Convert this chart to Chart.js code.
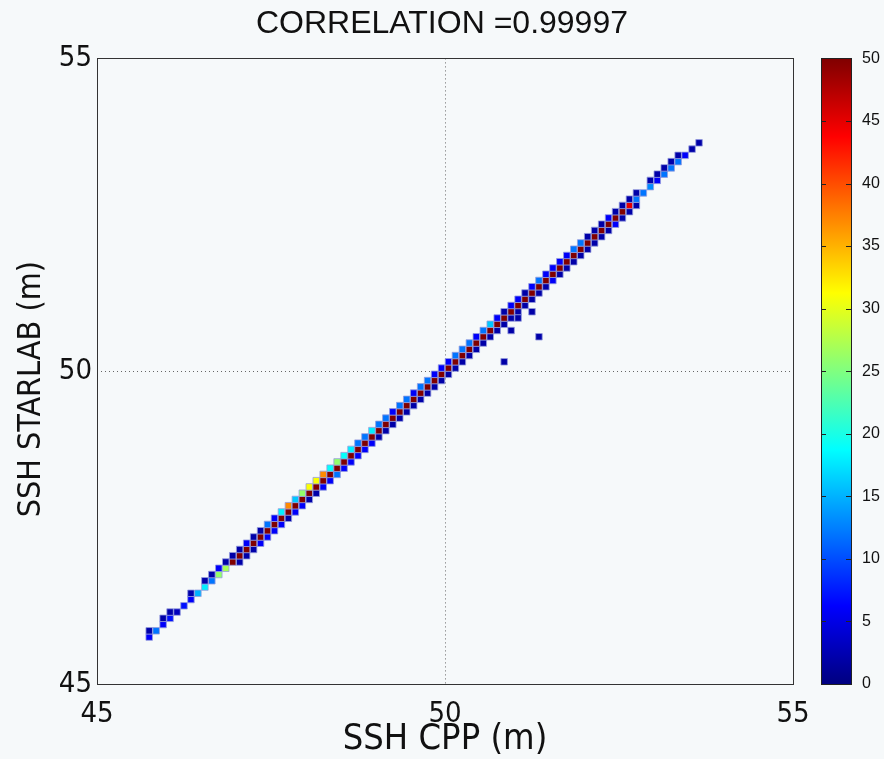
<!DOCTYPE html>
<html>
<head>
<meta charset="utf-8">
<script src="https://cdn.jsdelivr.net/npm/chart.js@4.4.0/dist/chart.umd.min.js"></script>
<style>
html,body{margin:0;padding:0;background:#f6f9fa;}
canvas{display:block;}
</style>
</head>
<body>
<canvas id="c" width="884" height="759" style="width:884px;height:759px"></canvas>
<script>
// ---------------- data ----------------
const chartTitle = 'CORRELATION =0.99997';
const xAxisTitle = 'SSH CPP (m)';
const yAxisTitle = 'SSH STARLAB (m)';
const axisTicks = [45, 50, 55];
const colorbarTicks = [0, 5, 10, 15, 20, 25, 30, 35, 40, 45, 50];
const colorMax = 50;

// 0.1 m bin centres (used for both axes)
const binCenters = [
  45.65, 45.75, 45.85, 45.95, 46.05, 46.15, 46.25, 46.35, 46.45, 46.55,
  46.65, 46.75, 46.85, 46.95, 47.05, 47.15, 47.25, 47.35, 47.45, 47.55,
  47.65, 47.75, 47.85, 47.95, 48.05, 48.15, 48.25, 48.35, 48.45, 48.55,
  48.65, 48.75, 48.85, 48.95, 49.05, 49.15, 49.25, 49.35, 49.45, 49.55,
  49.65, 49.75, 49.85, 49.95, 50.05, 50.15, 50.25, 50.35, 50.45, 50.55,
  50.65, 50.75, 50.85, 50.95, 51.05, 51.15, 51.25, 51.35, 51.45, 51.55,
  51.65, 51.75, 51.85, 51.95, 52.05, 52.15, 52.25, 52.35, 52.45, 52.55,
  52.65, 52.75, 52.85, 52.95, 53.05, 53.15, 53.25, 53.35, 53.45, 53.55,
  53.65, 53.75
];

// per STARLAB row (45.75 ... 53.65): counts in the CPP bin just left of, on, and just right of the diagonal
const aboveDiagCounts = [
  0, 2, 0, 2, 2, 0, 0, 2, 0, 2,
  2, 6, 2, 2, 2, 6, 2, 2, 12, 6,
  18, 37, 16, 26, 31, 31, 37, 19, 26, 19,
  18, 12, 12, 18, 12, 12, 6, 12, 12, 6,
  12, 12, 6, 6, 6, 12, 12, 12, 6, 12,
  16, 6, 2, 6, 6, 2, 6, 12, 6, 6,
  6, 6, 12, 12, 2, 2, 2, 6, 2, 2,
  2, 2, 0, 2, 2, 2, 2, 2, 0, 0
];
const onDiagCounts = [
  6, 12, 6, 7, 3, 7, 6, 15, 18, 12,
  26, 27, 55, 70, 85, 95, 110, 120, 130, 140,
  150, 160, 170, 175, 180, 180, 175, 170, 165, 160,
  160, 155, 150, 150, 145, 140, 140, 135, 130, 130,
  125, 120, 120, 115, 115, 110, 110, 105, 105, 100,
  100, 95, 95, 90, 90, 85, 85, 80, 80, 75,
  75, 70, 70, 65, 65, 60, 60, 55, 52, 45,
  12, 12, 13, 6, 12, 12, 12, 6, 2, 2
];
const belowDiagCounts = [
  0, 0, 0, 0, 0, 0, 0, 0, 0, 0,
  0, 0, 2, 2, 2, 6, 6, 6, 6, 2,
  6, 6, 2, 2, 6, 6, 12, 6, 6, 6,
  6, 6, 2, 2, 2, 2, 2, 2, 2, 2,
  2, 2, 2, 2, 2, 2, 2, 2, 2, 2,
  2, 2, 2, 2, 2, 2, 2, 6, 2, 2,
  2, 2, 2, 2, 2, 2, 6, 2, 2, 2,
  0, 0, 0, 0, 0, 0, 0, 0, 0, 0
];

// isolated bins away from the diagonal
const outlierX = [50.85, 50.95, 51.05, 51.25, 51.35];
const outlierY = [50.15, 50.65, 50.85, 50.95, 50.55];
const outlierCounts = [2, 2, 2, 2, 2];

// ---------------- helpers ----------------
function jet(v) {
  const t = Math.max(0, Math.min(1, v / colorMax));
  const c = k => Math.round(255 * Math.max(0, Math.min(1, 1.5 - Math.abs(4 * t - k))));
  return `rgb(${c(3)},${c(2)},${c(1)})`;
}

const cells = [];
for (let i = 0; i < onDiagCounts.length; i++) {
  const y = binCenters[i + 1];
  if (aboveDiagCounts[i]) cells.push({x: binCenters[i], y, v: aboveDiagCounts[i]});
  if (onDiagCounts[i]) cells.push({x: binCenters[i + 1], y, v: onDiagCounts[i]});
  if (belowDiagCounts[i]) cells.push({x: binCenters[i + 2], y, v: belowDiagCounts[i]});
}
for (let i = 0; i < outlierX.length; i++) {
  cells.push({x: outlierX[i], y: outlierY[i], v: outlierCounts[i]});
}

const narrow = "'Liberation Sans Narrow', 'DejaVu Sans Condensed', 'Liberation Sans', sans-serif";

const frameAndColorbar = {
  id: 'frameAndColorbar',
  beforeDraw(chart) {
    const ctx = chart.ctx;
    ctx.save();
    ctx.fillStyle = '#f6f9fa';
    ctx.fillRect(0, 0, chart.width, chart.height);
    ctx.restore();
  },
  afterDraw(chart) {
    const ctx = chart.ctx;
    const a = chart.chartArea;
    ctx.save();
    ctx.strokeStyle = '#333';
    ctx.lineWidth = 1;
    ctx.strokeRect(Math.round(a.left) + 0.5, Math.round(a.top) + 0.5, Math.round(a.right - a.left), Math.round(a.bottom - a.top));
    // y axis title (slightly above the axis centre, as in the original)
    ctx.save();
    ctx.translate(32, (a.top + a.bottom) / 2 + 18);
    ctx.rotate(-Math.PI / 2);
    ctx.fillStyle = '#111';
    ctx.font = "32px " + narrow;
    ctx.textAlign = 'center';
    ctx.textBaseline = 'middle';
    ctx.fillText(yAxisTitle, 0, 0);
    ctx.restore();
    // colorbar
    const cb = chart.scales.cb;
    const x0 = Math.round(cb.left + 28), x1 = Math.round(cb.left + 58);
    const yTop = cb.getPixelForValue(colorMax), yBot = cb.getPixelForValue(0);
    const g = ctx.createLinearGradient(0, yBot, 0, yTop);
    for (let i = 0; i <= 64; i++) g.addColorStop(i / 64, jet(i / 64 * colorMax));
    ctx.fillStyle = g;
    ctx.fillRect(x0, yTop, x1 - x0, yBot - yTop);
    ctx.strokeStyle = '#222';
    ctx.strokeRect(x0 + 0.5, Math.round(yTop) + 0.5, x1 - x0, Math.round(yBot - yTop));
    ctx.beginPath();
    cb.ticks.forEach(t => {
      const y = Math.round(cb.getPixelForValue(t.value)) + 0.5;
      ctx.moveTo(x0, y); ctx.lineTo(x0 + 5, y);
      ctx.moveTo(x1 - 5, y); ctx.lineTo(x1, y);
    });
    ctx.stroke();
    ctx.restore();
  }
};

const setTicks = list => scale => { scale.ticks = list.map(v => ({value: v})); };
const noPad = s => { s.paddingTop = 0; s.paddingBottom = 0; s.paddingLeft = 0; s.paddingRight = 0; };

new Chart(document.getElementById('c'), {
  type: 'scatter',
  data: {
    datasets: [{
      data: cells,
      pointStyle: 'rect',
      pointRadius: ctx => {
        const xs = ctx.chart.scales.x, ys = ctx.chart.scales.y;
        const w = Math.abs(xs.getPixelForValue(binCenters[1]) - xs.getPixelForValue(binCenters[0]));
        const h = Math.abs(ys.getPixelForValue(binCenters[1]) - ys.getPixelForValue(binCenters[0]));
        return ((w + h) / 2 - 0.1) / Math.SQRT2;
      },
      pointHoverRadius: 4.6,
      backgroundColor: ctx => jet(ctx.raw ? ctx.raw.v : 0),
      borderColor: 'rgba(150,158,222,0.8)',
      borderWidth: 1
    }]
  },
  options: {
    responsive: false,
    devicePixelRatio: 1,
    animation: false,
    events: [],
    layout: {padding: 0},
    plugins: {
      legend: {display: false},
      tooltip: {enabled: false},
      title: {
        display: true,
        text: chartTitle,
        color: '#111',
        font: {family: "'Liberation Sans', Arial, sans-serif", size: 32, weight: 'normal'},
        padding: {top: 5, bottom: 15}
      }
    },
    scales: {
      x: {
        type: 'linear', position: 'bottom', min: 45, max: 55,
        afterBuildTicks: setTicks(axisTicks),
        afterFit: s => { s.height = 75; noPad(s); },
        grid: {drawTicks: false, color: c => (c.tick && c.tick.value === 50) ? '#666' : 'rgba(0,0,0,0)', lineWidth: 1},
        border: {display: false, dash: [1, 3]},
        ticks: {color: '#111', padding: 13, maxRotation: 0, font: {family: narrow, size: 29}},
        title: {display: true, text: xAxisTitle, color: '#111', font: {family: narrow, size: 36, lineHeight: 1}, padding: {top: 0, bottom: 1}}
      },
      y: {
        type: 'linear', position: 'left', min: 45, max: 55,
        afterBuildTicks: setTicks(axisTicks),
        afterFit: s => { s.width = 97; noPad(s); },
        grid: {drawTicks: false, color: c => (c.tick && c.tick.value === 50) ? '#666' : 'rgba(0,0,0,0)', lineWidth: 1},
        border: {display: false, dash: [1, 3]},
        ticks: {color: '#111', padding: 5, font: {family: narrow, size: 29}},
        title: {display: false}
      },
      cb: {
        type: 'linear', position: 'right', min: 0, max: colorMax,
        afterBuildTicks: setTicks(colorbarTicks),
        afterFit: s => { s.width = 91; noPad(s); },
        grid: {display: false, drawTicks: false, drawOnChartArea: false},
        border: {display: false},
        ticks: {color: '#111', padding: 69, font: {family: "'Liberation Sans', Arial, sans-serif", size: 16}}
      }
    }
  },
  plugins: [frameAndColorbar]
});
</script>
</body>
</html>
